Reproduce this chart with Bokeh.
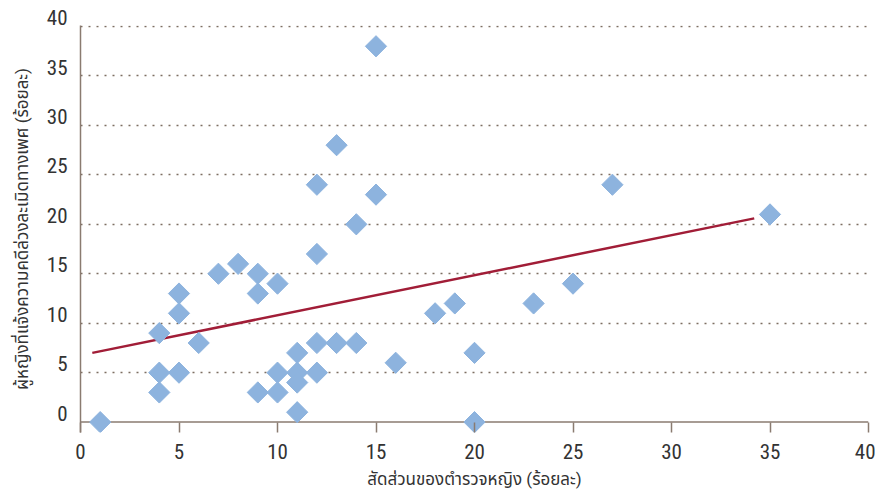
from bokeh.plotting import figure
from bokeh.models import Range1d, FixedTicker, Span
from bokeh.embed import file_html
from bokeh.resources import INLINE
import math

# Data
police_women_pct = [1, 4, 4, 4, 5, 5, 5, 6, 7, 8, 9, 9, 9, 10, 10, 10, 11, 11, 11, 11,
                    12, 12, 12, 12, 13, 13, 14, 14, 15, 15, 16, 18, 19, 20, 20, 23, 25, 27, 35]
reported_pct = [0, 3, 5, 9, 5, 11, 13, 8, 15, 16, 15, 13, 3, 14, 5, 3, 7, 5, 4, 1,
                24, 17, 8, 5, 28, 8, 20, 8, 38, 23, 6, 11, 12, 7, 0, 12, 14, 24, 21]
trend_x = [0.6, 34.2]
trend_y = [7.0, 20.6]
tick_values = [0, 5, 10, 15, 20, 25, 30, 35, 40]
tick_labels = [str(v) for v in tick_values]

x_title = "สัดส่วนของตำรวจหญิง (ร้อยละ)"
y_title = "ผู้หญิงที่แจ้งความคดีล่วงละเมิดทางเพศ (ร้อยละ)"

NUM_FONT = "Roboto Condensed, Roboto"
THAI_FONT = "Roboto, Noto Sans Thai, Noto Sans Thai UI, sans-serif"
TXT = "#333333"
AXC = "#8a7b70"

p = figure(width=875, height=492, output_backend="svg", toolbar_location=None,
           x_range=Range1d(0, 40), y_range=Range1d(-1.05, 40.1),
           min_border_left=80, min_border_right=7, min_border_top=25, min_border_bottom=60)
p.outline_line_color = None
p.background_fill_color = "white"

p.xgrid.visible = False
p.ygrid.ticker = FixedTicker(ticks=tick_values[1:])
p.ygrid.grid_line_color = "#7d6e62"
p.ygrid.grid_line_dash = "2 6"
p.ygrid.grid_line_width = 1.5

p.xaxis.ticker = FixedTicker(ticks=tick_values)
p.yaxis.ticker = FixedTicker(ticks=tick_values)
for ax in (p.xaxis[0], p.yaxis[0]):
    ax.minor_tick_line_color = None
    ax.major_label_text_font = NUM_FONT
    ax.major_label_text_font_size = "21px"
    ax.major_label_text_color = TXT
    ax.axis_label_text_font = THAI_FONT
    ax.axis_label_text_font_size = "17px"
    ax.axis_label_text_font_style = "normal"
    ax.axis_label_text_color = TXT

# x axis sits at the bottom of the frame; its visible line is the span at y = 0
p.xaxis.axis_line_color = None
p.xaxis.major_tick_line_color = AXC
p.xaxis.major_tick_line_width = 1.5
p.xaxis.major_tick_out = 0
p.xaxis.major_tick_in = 10
p.xaxis.major_label_standoff = 11
p.xaxis.axis_label = x_title
p.xaxis.axis_label_standoff = 7

# y tick labels sit just above their gridlines (second, empty line lifts them)
p.yaxis.axis_line_color = AXC
p.yaxis.axis_line_width = 1.5
p.yaxis.major_tick_line_color = None
p.yaxis.major_label_overrides = {v: t + "\n" for v, t in zip(tick_values, tick_labels)}
p.yaxis.major_label_text_line_height = 0.7
p.yaxis.major_label_standoff = 7
p.yaxis.axis_label = y_title
p.yaxis.axis_label_standoff = 12

p.add_layout(Span(location=0, dimension="width", line_color=AXC, line_width=1.5,
                  level="underlay"))

p.line(trend_x, trend_y, line_color="#a11d37", line_width=2.5)
p.scatter(police_women_pct, reported_pct, marker="square", size=15, angle=math.pi / 4,
          fill_color="#8db3de", line_color="#8db3de", line_width=1)

open("out.html", "w").write(file_html(p, INLINE))
